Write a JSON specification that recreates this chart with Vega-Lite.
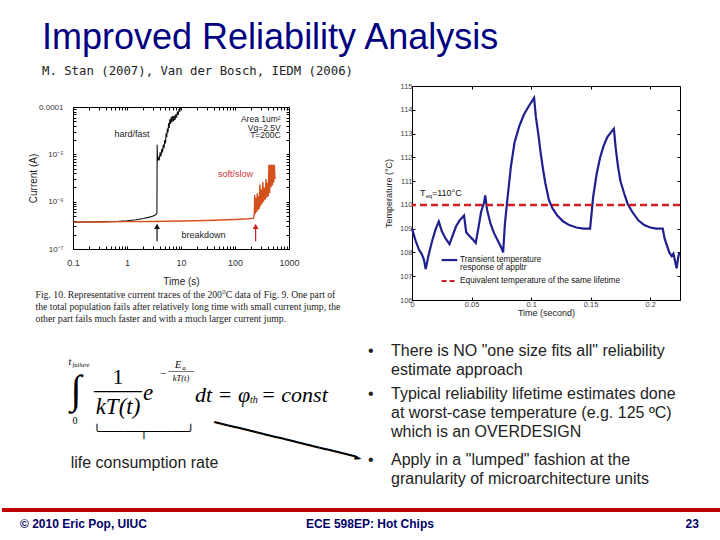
{
  "$schema": "https://vega.github.io/schema/vega-lite/v6.json",
  "background": "white",
  "padding": {"top": 20, "left": 0, "right": 0, "bottom": 0},
  "title": {
    "text": "Improved Reliability Analysis",
    "subtitle": "M. Stan (2007), Van der Bosch, IEDM (2006)",
    "anchor": "start", "frame": "group", "dx": 40, "offset": 2,
    "font": "Liberation Sans", "fontSize": 36, "fontWeight": "normal", "color": "#000080",
    "subtitleFont": "DejaVu Sans Mono", "subtitleFontSize": 12.3, "subtitleColor": "#222222", "subtitlePadding": 8
  },
  "config": {
    "view": {"stroke": null},
    "axis": {"grid": false, "labelFont": "Liberation Sans", "titleFont": "Liberation Sans", "titleFontWeight": "normal", "domainColor": "#000000", "tickColor": "#000000", "labelColor": "#333333", "titleColor": "#222222"},
    "text": {"font": "Liberation Sans"}
  },
  "spacing": 12,
  "vconcat": [
    {
      "spacing": 0,
      "hconcat": [
        {"width": 26, "height": 1, "data": {"values": [{}]}, "mark": "text", "encoding": {"text": {"value": ""}}},
        {
          "spacing": 0,
          "vconcat": [
            {"width": 1, "height": 16, "data": {"values": [{}]}, "mark": "text", "encoding": {"text": {"value": ""}}},
            {
              "width": 216, "height": 142,
              "view": {"stroke": "#000000", "strokeWidth": 1},
              "title": {
                "text": ["Fig. 10. Representative current traces of the 200°C data of Fig. 9. One part of", "the total population fails after relatively long time with small current jump, the", "other part fails much faster and with a much larger current jump."],
                "orient": "bottom", "anchor": "start", "frame": "bounds", "dx": 7, "offset": 4,
                "font": "Liberation Serif", "fontSize": 9.7, "fontWeight": "normal", "color": "#222222", "lineHeight": 12
              },
              "resolve": {"axis": {"x": "independent", "y": "independent"}},
              "layer": [
                {
                  "data": {"values": [
                    {"t": 0.1, "i": 3.7e-7}, {"t": 0.2, "i": 3.72e-7}, {"t": 0.4, "i": 3.78e-7}, {"t": 0.7, "i": 3.85e-7}, {"t": 1, "i": 3.95e-7}, {"t": 1.5, "i": 4.15e-7}, {"t": 2, "i": 4.4e-7}, {"t": 2.5, "i": 4.65e-7}, {"t": 3, "i": 4.95e-7}, {"t": 3.4, "i": 5.3e-7}, {"t": 3.58, "i": 5.7e-7}, {"t": 3.62, "i": 1.6e-5}, {"t": 3.68, "i": 7.2e-6}, {"t": 3.8, "i": 8.5e-6}, {"t": 3.95, "i": 7.5e-6}, {"t": 4.1, "i": 1.1e-5}, {"t": 4.25, "i": 9e-6}, {"t": 4.4, "i": 1.3e-5}, {"t": 4.55, "i": 1.1e-5}, {"t": 4.7, "i": 1.6e-5}, {"t": 4.85, "i": 1.35e-5}, {"t": 5.0, "i": 2.0e-5}, {"t": 5.15, "i": 1.7e-5}, {"t": 5.3, "i": 2.8e-5}, {"t": 5.45, "i": 2.3e-5}, {"t": 5.6, "i": 3.5e-5}, {"t": 5.75, "i": 2.9e-5}, {"t": 5.9, "i": 4.6e-5}, {"t": 6.05, "i": 3.6e-5}, {"t": 6.2, "i": 5.5e-5}, {"t": 6.4, "i": 4.4e-5}, {"t": 6.6, "i": 6.2e-5}, {"t": 6.8, "i": 4.8e-5}, {"t": 7.0, "i": 6.4e-5}, {"t": 7.25, "i": 5.0e-5}, {"t": 7.5, "i": 6.6e-5}, {"t": 7.75, "i": 5.3e-5}, {"t": 8.0, "i": 7.0e-5}, {"t": 8.3, "i": 6.0e-5}, {"t": 8.6, "i": 8.0e-5}, {"t": 8.9, "i": 6.8e-5}, {"t": 9.2, "i": 9.0e-5}, {"t": 9.5, "i": 8.0e-5}, {"t": 9.8, "i": 1e-4}
                  ]},
                  "mark": {"type": "line", "color": "#111111", "strokeWidth": 1.1},
                  "encoding": {
                    "x": {"field": "t", "type": "quantitative", "scale": {"type": "log", "domain": [0.1, 1000], "nice": false},
                      "axis": {"values": [0.1,0.2,0.3,0.4,0.5,0.6,0.7,0.8,0.9,1,2,3,4,5,6,7,8,9,10,20,30,40,50,60,70,80,90,100,200,300,400,500,600,700,800,900,1000],
                        "labelExpr": "indexof([0.1,1,10,100,1000], datum.value) >= 0 ? format(datum.value, '~g') : ''",
                        "title": "Time (s)", "tickSize": -3, "labelPadding": 12, "titlePadding": 9, "labelFontSize": 9, "titleFontSize": 10, "labelOverlap": false, "labelFlush": false, "domain": false}},
                    "y": {"field": "i", "type": "quantitative", "scale": {"type": "log", "domain": [1e-7, 1e-4], "nice": false},
                      "axis": {"values": [1e-7,2e-7,3e-7,4e-7,5e-7,6e-7,7e-7,8e-7,9e-7,1e-6,2e-6,3e-6,4e-6,5e-6,6e-6,7e-6,8e-6,9e-6,1e-5,2e-5,3e-5,4e-5,5e-5,6e-5,7e-5,8e-5,9e-5,1e-4],
                        "labelExpr": "datum.value == 1e-4 ? '0.0001' : datum.value == 1e-5 ? '10⁻⁵' : datum.value == 1e-6 ? '10⁻⁶' : datum.value == 1e-7 ? '10⁻⁷' : ''",
                        "title": "Current (A)", "tickSize": -3, "labelPadding": 13, "titlePadding": 0, "labelFontSize": 8, "titleFontSize": 10, "labelOverlap": false, "domain": false}}
                  }
                },
                {
                  "data": {"values": [
                    {"t": 0.1, "i": 3.7e-7}, {"t": 0.3, "i": 3.72e-7}, {"t": 1, "i": 3.78e-7}, {"t": 3, "i": 3.82e-7}, {"t": 10, "i": 3.9e-7}, {"t": 30, "i": 4.0e-7}, {"t": 100, "i": 4.2e-7}, {"t": 180, "i": 4.35e-7}, {"t": 220, "i": 4.5e-7}, {"t": 228, "i": 5.5e-7}, {"t": 232, "i": 1.4e-6}, {"t": 236, "i": 5.5e-7}, {"t": 244, "i": 1.2e-6}, {"t": 250, "i": 6e-7}, {"t": 258, "i": 1.5e-6}, {"t": 264, "i": 6.5e-7}, {"t": 272, "i": 1.3e-6}, {"t": 280, "i": 7e-7}, {"t": 290, "i": 2.3e-6}, {"t": 298, "i": 8e-7}, {"t": 308, "i": 1.8e-6}, {"t": 318, "i": 9e-7}, {"t": 328, "i": 2.6e-6}, {"t": 338, "i": 1.0e-6}, {"t": 350, "i": 2.0e-6}, {"t": 362, "i": 1.1e-6}, {"t": 375, "i": 3.0e-6}, {"t": 388, "i": 1.2e-6}, {"t": 400, "i": 2.5e-6}, {"t": 412, "i": 1.3e-6}, {"t": 425, "i": 6.0e-6}, {"t": 438, "i": 1.5e-6}, {"t": 450, "i": 6.0e-6}, {"t": 462, "i": 2e-6}, {"t": 475, "i": 6.0e-6}, {"t": 490, "i": 2.2e-6}, {"t": 505, "i": 6.0e-6}, {"t": 520, "i": 2.5e-6}, {"t": 535, "i": 6.0e-6}, {"t": 550, "i": 3e-6}
                  ]},
                  "mark": {"type": "line", "color": "#d4501c", "strokeWidth": 1.4},
                  "encoding": {
                    "x": {"field": "t", "type": "quantitative", "axis": {"orient": "top", "values": [0.1,0.2,0.3,0.4,0.5,0.6,0.7,0.8,0.9,1,2,3,4,5,6,7,8,9,10,20,30,40,50,60,70,80,90,100,200,300,400,500,600,700,800,900,1000], "labels": false, "title": null, "tickSize": -3, "domain": false}},
                    "y": {"field": "i", "type": "quantitative", "axis": {"orient": "right", "values": [1e-7,2e-7,3e-7,4e-7,5e-7,6e-7,7e-7,8e-7,9e-7,1e-6,2e-6,3e-6,4e-6,5e-6,6e-6,7e-6,8e-6,9e-6,1e-5,2e-5,3e-5,4e-5,5e-5,6e-5,7e-5,8e-5,9e-5,1e-4], "labels": false, "title": null, "tickSize": -3, "domain": false}}
                  }
                },
                {
                  "data": {"values": [{"label": "hard/fast", "t": 1.24, "i": 2.64e-5}, {"label": "breakdown", "t": 26, "i": 1.94e-7}]},
                  "mark": {"type": "text", "fontSize": 9, "color": "#222222"},
                  "encoding": {"x": {"field": "t", "type": "quantitative", "axis": null}, "y": {"field": "i", "type": "quantitative", "axis": null}, "text": {"field": "label"}}
                },
                {
                  "data": {"values": [{"label": "soft/slow", "t": 102, "i": 3.75e-6}]},
                  "mark": {"type": "text", "fontSize": 9, "color": "#cc3333"},
                  "encoding": {"x": {"field": "t", "type": "quantitative", "axis": null}, "y": {"field": "i", "type": "quantitative", "axis": null}, "text": {"field": "label"}}
                },
                {
                  "data": {"values": [{"label": "Area 1um²", "t": 700, "i": 5.5e-5}, {"label": "Vg=2.5V", "t": 700, "i": 3.66e-5}, {"label": "T=200C", "t": 700, "i": 2.5e-5}]},
                  "mark": {"type": "text", "fontSize": 8.5, "color": "#222222", "align": "right"},
                  "encoding": {"x": {"field": "t", "type": "quantitative", "axis": null}, "y": {"field": "i", "type": "quantitative", "axis": null}, "text": {"field": "label"}}
                },
                {
                  "data": {"values": [{"t": 3.6, "i0": 1.45e-7, "i1": 3.0e-7}]},
                  "layer": [
                    {"mark": {"type": "rule", "color": "#111111", "strokeWidth": 1.2}, "encoding": {"x": {"field": "t", "type": "quantitative", "axis": null}, "y": {"field": "i0", "type": "quantitative", "axis": null}, "y2": {"field": "i1"}}},
                    {"mark": {"type": "point", "shape": "triangle-up", "filled": true, "size": 35, "color": "#111111", "opacity": 1}, "encoding": {"x": {"field": "t", "type": "quantitative", "axis": null}, "y": {"field": "i1", "type": "quantitative", "axis": null}}}
                  ]
                },
                {
                  "data": {"values": [{"t": 241, "i0": 1.45e-7, "i1": 3.0e-7}]},
                  "layer": [
                    {"mark": {"type": "rule", "color": "#cc2020", "strokeWidth": 1.2}, "encoding": {"x": {"field": "t", "type": "quantitative", "axis": null}, "y": {"field": "i0", "type": "quantitative", "axis": null}, "y2": {"field": "i1"}}},
                    {"mark": {"type": "point", "shape": "triangle-up", "filled": true, "size": 35, "color": "#cc2020", "opacity": 1}, "encoding": {"x": {"field": "t", "type": "quantitative", "axis": null}, "y": {"field": "i1", "type": "quantitative", "axis": null}}}
                  ]
                }
              ]
            }
          ]
        },
        {"width": 42, "height": 1, "data": {"values": [{}]}, "mark": "text", "encoding": {"text": {"value": ""}}},
        {
          "width": 268, "height": 214,
          "view": {"stroke": "#000000", "strokeWidth": 1},
          "resolve": {"axis": {"x": "independent", "y": "independent"}},
          "layer": [
            {
              "data": {"values": [
                {"t": 0, "T": 109.0}, {"t": 0.003, "T": 108.5}, {"t": 0.006, "T": 108.1}, {"t": 0.008, "T": 107.95}, {"t": 0.010, "T": 107.7}, {"t": 0.0115, "T": 107.3}, {"t": 0.014, "T": 107.9}, {"t": 0.017, "T": 108.5}, {"t": 0.020, "T": 109.0}, {"t": 0.0225, "T": 109.3}, {"t": 0.025, "T": 108.9}, {"t": 0.028, "T": 108.6}, {"t": 0.0315, "T": 108.35}, {"t": 0.034, "T": 108.7}, {"t": 0.037, "T": 109.1}, {"t": 0.040, "T": 109.35}, {"t": 0.0437, "T": 109.55}, {"t": 0.0455, "T": 108.85}, {"t": 0.048, "T": 108.7}, {"t": 0.051, "T": 108.55}, {"t": 0.0535, "T": 108.4}, {"t": 0.056, "T": 109.1}, {"t": 0.058, "T": 109.7}, {"t": 0.0605, "T": 110.1}, {"t": 0.0615, "T": 110.4}, {"t": 0.063, "T": 109.8}, {"t": 0.066, "T": 109.2}, {"t": 0.069, "T": 108.8}, {"t": 0.072, "T": 108.5}, {"t": 0.075, "T": 108.2}, {"t": 0.0765, "T": 108.0}, {"t": 0.078, "T": 109.2}, {"t": 0.080, "T": 110.2}, {"t": 0.083, "T": 111.6}, {"t": 0.086, "T": 112.6}, {"t": 0.090, "T": 113.3}, {"t": 0.094, "T": 113.8}, {"t": 0.098, "T": 114.15}, {"t": 0.1025, "T": 114.5}, {"t": 0.104, "T": 113.7}, {"t": 0.106, "T": 113.0}, {"t": 0.108, "T": 112.2}, {"t": 0.110, "T": 111.5}, {"t": 0.112, "T": 110.9}, {"t": 0.115, "T": 110.2}, {"t": 0.118, "T": 109.85}, {"t": 0.122, "T": 109.55}, {"t": 0.127, "T": 109.3}, {"t": 0.132, "T": 109.15}, {"t": 0.138, "T": 109.05}, {"t": 0.144, "T": 109.0}, {"t": 0.1495, "T": 109.0}, {"t": 0.1505, "T": 109.5}, {"t": 0.152, "T": 110.3}, {"t": 0.155, "T": 111.3}, {"t": 0.158, "T": 112.0}, {"t": 0.161, "T": 112.5}, {"t": 0.164, "T": 112.85}, {"t": 0.167, "T": 113.05}, {"t": 0.1695, "T": 113.2}, {"t": 0.171, "T": 112.4}, {"t": 0.173, "T": 111.6}, {"t": 0.175, "T": 111.0}, {"t": 0.178, "T": 110.5}, {"t": 0.181, "T": 110.05}, {"t": 0.185, "T": 109.7}, {"t": 0.190, "T": 109.35}, {"t": 0.195, "T": 109.15}, {"t": 0.200, "T": 109.05}, {"t": 0.205, "T": 109.0}, {"t": 0.2105, "T": 109.0}, {"t": 0.212, "T": 108.6}, {"t": 0.214, "T": 108.3}, {"t": 0.216, "T": 108.0}, {"t": 0.218, "T": 107.85}, {"t": 0.2195, "T": 107.95}, {"t": 0.221, "T": 107.6}, {"t": 0.2222, "T": 107.33}, {"t": 0.2235, "T": 107.8}, {"t": 0.2245, "T": 108.0}
              ]},
              "mark": {"type": "line", "color": "#1f1f8f", "strokeWidth": 2.2},
              "encoding": {
                "x": {"field": "t", "type": "quantitative", "scale": {"domain": [0, 0.225], "nice": false, "zero": false},
                  "axis": {"values": [0, 0.05, 0.1, 0.15, 0.2], "format": "~g", "title": "Time (second)", "tickSize": -3, "labelPadding": 3, "titlePadding": 1, "labelFontSize": 7.5, "titleFontSize": 9, "labelColor": "#444444", "labelFlush": false, "domain": false}},
                "y": {"field": "T", "type": "quantitative", "scale": {"domain": [106, 115], "nice": false, "zero": false},
                  "axis": {"values": [106, 107, 108, 109, 110, 111, 112, 113, 114, 115], "title": "Temperature (°C)", "tickSize": -3, "labelPadding": 3, "titlePadding": 6, "labelFontSize": 7.5, "titleFontSize": 9, "labelColor": "#444444", "domain": false}}
              }
            },
            {
              "data": {"values": [{"T": 110}]},
              "mark": {"type": "rule", "color": "#d02020", "strokeWidth": 2.5, "strokeDash": [7, 4]},
              "encoding": {"y": {"field": "T", "type": "quantitative", "axis": {"orient": "right", "values": [106, 107, 108, 109, 110, 111, 112, 113, 114, 115], "labels": false, "title": null, "tickSize": -3, "domain": false}}}
            },
            {
              "data": {"values": [{"series": "Transient temperature response of appltr"}]},
              "mark": {"type": "rule", "color": "#1f1f8f", "strokeWidth": 2.2},
              "encoding": {
                "x": {"datum": 0.0249, "type": "quantitative", "axis": {"orient": "top", "values": [0, 0.05, 0.1, 0.15, 0.2], "labels": false, "title": null, "tickSize": -3, "domain": false}},
                "x2": {"datum": 0.038},
                "y": {"datum": 107.68, "type": "quantitative", "axis": null}
              }
            },
            {
              "data": {"values": [{"series": "Equivalent temperature of the same lifetime"}]},
              "mark": {"type": "rule", "color": "#d02020", "strokeWidth": 2.2, "strokeDash": [5, 3]},
              "encoding": {
                "x": {"datum": 0.0249, "type": "quantitative", "axis": null},
                "x2": {"datum": 0.038},
                "y": {"datum": 106.8, "type": "quantitative", "axis": null}
              }
            },
            {
              "data": {"values": [{"label": "Transient temperature", "t": 0.0403, "T": 107.68}, {"label": "response of  appltr", "t": 0.0403, "T": 107.33}, {"label": "Equivalent temperature of the same lifetime", "t": 0.0403, "T": 106.8}]},
              "mark": {"type": "text", "align": "left", "fontSize": 8.3, "color": "#111111"},
              "encoding": {"x": {"field": "t", "type": "quantitative", "axis": null}, "y": {"field": "T", "type": "quantitative", "axis": null}, "text": {"field": "label"}}
            },
            {
              "data": {"values": [{"T0": "T", "sub": "eq", "rest": "=110°C", "t": 0.0067, "T": 110.49}]},
              "layer": [
                {"mark": {"type": "text", "align": "left", "fontSize": 9, "color": "#111111"}, "encoding": {"x": {"field": "t", "type": "quantitative", "axis": null}, "y": {"field": "T", "type": "quantitative", "axis": null}, "text": {"field": "T0"}}},
                {"mark": {"type": "text", "align": "left", "fontSize": 5.5, "color": "#111111", "dx": 6, "dy": 3}, "encoding": {"x": {"field": "t", "type": "quantitative", "axis": null}, "y": {"field": "T", "type": "quantitative", "axis": null}, "text": {"field": "sub"}}},
                {"mark": {"type": "text", "align": "left", "fontSize": 9, "color": "#111111", "dx": 12}, "encoding": {"x": {"field": "t", "type": "quantitative", "axis": null}, "y": {"field": "T", "type": "quantitative", "axis": null}, "text": {"field": "rest"}}}
              ]
            }
          ]
        }
      ]
    },
    {
      "spacing": 0,
      "hconcat": [
        {"width": 40, "height": 1, "data": {"values": [{}]}, "mark": "text", "encoding": {"text": {"value": ""}}},
        {
          "width": 326, "height": 153,
          "data": {"values": [{"integral": "∫", "upper": "t", "sub": "failure", "lower": "0", "num": "1", "bar": "——", "den": "kT(t)", "e": "e", "minus": "−", "E": "E", "a": "a", "expden": "kT(t)", "lhs": "dt = φ", "th": "th", "rhs": "= const", "brace": "╰─────┬─────╯", "note": "life consumption rate", "arrow": "━━━━━━━━━━━━━━━━━━━━►"}]},
          "layer": [
            {"mark": {"type": "text", "font": "Liberation Serif", "fontSize": 40, "dx": -129, "dy": -29, "color": "#000000"}, "encoding": {"text": {"field": "integral"}}},
            {"mark": {"type": "text", "font": "Liberation Serif", "fontStyle": "italic", "fontSize": 10, "dx": -135, "dy": -58, "color": "#000000"}, "encoding": {"text": {"field": "upper"}}},
            {"mark": {"type": "text", "font": "Liberation Serif", "fontStyle": "italic", "fontSize": 6.5, "dx": -124, "dy": -55, "color": "#000000"}, "encoding": {"text": {"field": "sub"}}},
            {"mark": {"type": "text", "font": "Liberation Serif", "fontSize": 10, "dx": -130, "dy": 1, "color": "#000000"}, "encoding": {"text": {"field": "lower"}}},
            {"mark": {"type": "text", "font": "Liberation Serif", "fontSize": 22, "dx": -87, "dy": -43, "color": "#000000"}, "encoding": {"text": {"field": "num"}}},
            {"mark": {"type": "text", "font": "Liberation Serif", "fontSize": 24, "dx": -87, "dy": -30, "color": "#000000"}, "encoding": {"text": {"field": "bar"}}},
            {"mark": {"type": "text", "font": "Liberation Serif", "fontStyle": "italic", "fontSize": 23, "dx": -87, "dy": -13, "color": "#000000"}, "encoding": {"text": {"field": "den"}}},
            {"mark": {"type": "text", "font": "Liberation Serif", "fontStyle": "italic", "fontSize": 23, "dx": -57, "dy": -26.5, "color": "#000000"}, "encoding": {"text": {"field": "e"}}},
            {"mark": {"type": "text", "font": "Liberation Serif", "fontSize": 11, "dx": -42, "dy": -45.5, "color": "#000000"}, "encoding": {"text": {"field": "minus"}}},
            {"mark": {"type": "text", "font": "Liberation Serif", "fontStyle": "italic", "fontSize": 10, "dx": -27, "dy": -55, "color": "#000000"}, "encoding": {"text": {"field": "E"}}},
            {"mark": {"type": "text", "font": "Liberation Serif", "fontStyle": "italic", "fontSize": 7, "dx": -21, "dy": -52, "color": "#000000"}, "encoding": {"text": {"field": "a"}}},
            {"mark": {"type": "text", "font": "Liberation Serif", "fontSize": 13, "dx": -24, "dy": -49.7, "color": "#000000"}, "encoding": {"text": {"field": "bar"}}},
            {"mark": {"type": "text", "font": "Liberation Serif", "fontStyle": "italic", "fontSize": 8.5, "dx": -24, "dy": -42, "color": "#000000"}, "encoding": {"text": {"field": "expden"}}},
            {"mark": {"type": "text", "font": "Liberation Serif", "fontStyle": "italic", "fontSize": 22, "align": "left", "dx": -10, "dy": -24.5, "color": "#000000"}, "encoding": {"text": {"field": "lhs"}}},
            {"mark": {"type": "text", "font": "Liberation Serif", "fontStyle": "italic", "fontSize": 10, "align": "left", "dx": 45, "dy": -19.5, "color": "#000000"}, "encoding": {"text": {"field": "th"}}},
            {"mark": {"type": "text", "font": "Liberation Serif", "fontStyle": "italic", "fontSize": 22, "align": "left", "dx": 56, "dy": -24.5, "color": "#000000"}, "encoding": {"text": {"field": "rhs"}}},
            {"mark": {"type": "text", "font": "DejaVu Sans Mono", "fontSize": 13, "dx": -61, "dy": 12, "color": "#000000"}, "encoding": {"text": {"field": "brace"}}},
            {"mark": {"type": "text", "font": "Liberation Sans", "fontSize": 16, "dx": -60.5, "dy": 43.5, "color": "#222222"}, "encoding": {"text": {"field": "note"}}},
            {"mark": {"type": "text", "font": "DejaVu Sans Mono", "fontSize": 12, "angle": 13.7, "dx": 85.5, "dy": 0.3, "color": "#000000"}, "encoding": {"text": {"field": "arrow"}}}
          ]
        },
        {
          "width": 340, "height": 153,
          "data": {"values": [
            {"n": 1, "start": 0, "lines": ["There is NO \"one size fits all\" reliability", "estimate approach"]},
            {"n": 2, "start": 2, "lines": ["Typical reliability lifetime estimates done", "at worst-case temperature (e.g. 125 ºC)", "which is an OVERDESIGN"]},
            {"n": 3, "start": 5, "lines": ["Apply in a \"lumped\" fashion at the", "granularity of microarchitecture units"]}
          ]},
          "layer": [
            {"mark": {"type": "text", "align": "left", "baseline": "top", "fontSize": 16, "color": "#222222"},
              "encoding": {"x": {"datum": 0, "type": "quantitative", "scale": {"domain": [0, 1]}, "axis": null}, "y": {"field": "start", "type": "quantitative", "scale": {"domain": [0, 7.05], "nice": false, "zero": false, "reverse": true}, "axis": null}, "text": {"value": "•"}}},
            {"mark": {"type": "text", "align": "left", "baseline": "top", "fontSize": 16, "lineHeight": 19, "color": "#222222", "dx": 23},
              "encoding": {"x": {"datum": 0, "type": "quantitative", "axis": null}, "y": {"field": "start", "type": "quantitative", "axis": null}, "text": {"field": "lines"}}}
          ]
        }
      ]
    },
    {
      "width": 720, "height": 28,
      "data": {"values": [{"left": "© 2010 Eric Pop, UIUC", "center": "ECE 598EP: Hot Chips", "right": "23"}]},
      "layer": [
        {"mark": {"type": "rule", "color": "#c00000", "strokeWidth": 4}, "encoding": {"y": {"datum": 1, "type": "quantitative", "scale": {"domain": [0, 1]}, "axis": null}}},
        {"mark": {"type": "text", "align": "left", "font": "Liberation Sans", "fontWeight": "bold", "fontSize": 12, "color": "#000066"},
          "encoding": {"x": {"datum": 0.025, "type": "quantitative", "scale": {"domain": [0, 1]}, "axis": null}, "y": {"datum": 0.5, "type": "quantitative", "axis": null}, "text": {"field": "left"}}},
        {"mark": {"type": "text", "align": "center", "font": "Liberation Sans", "fontWeight": "bold", "fontSize": 12, "color": "#000066"},
          "encoding": {"x": {"datum": 0.511, "type": "quantitative", "axis": null}, "y": {"datum": 0.5, "type": "quantitative", "axis": null}, "text": {"field": "center"}}},
        {"mark": {"type": "text", "align": "right", "font": "Liberation Sans", "fontWeight": "bold", "fontSize": 12, "color": "#000066"},
          "encoding": {"x": {"datum": 0.968, "type": "quantitative", "axis": null}, "y": {"datum": 0.5, "type": "quantitative", "axis": null}, "text": {"field": "right"}}}
      ]
    }
  ]
}
